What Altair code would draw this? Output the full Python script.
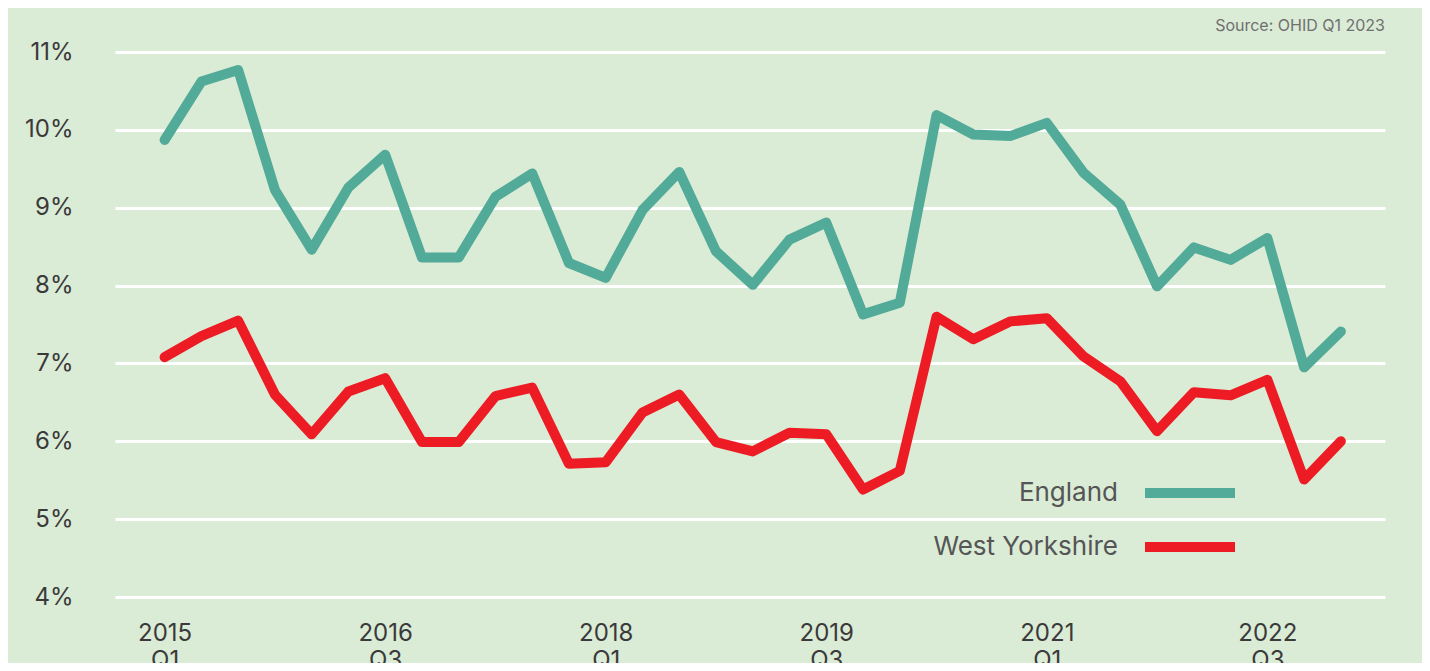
import json
import altair as alt
import pandas as pd

years = list(range(2015, 2024))
quarters = [f"{y} Q{q}" for y in years for q in range(1, 5)][:33]

england = [9.87, 10.62, 10.77, 9.23, 8.46, 9.26, 9.68, 8.36, 8.36, 9.14, 9.44,
           8.29, 8.10, 8.97, 9.46, 8.44, 8.01, 8.59, 8.81, 7.63, 7.78, 10.19,
           9.94, 9.92, 10.09, 9.45, 9.04, 7.99, 8.49, 8.33, 8.61, 6.95, 7.41]
west_yorkshire = [7.08, 7.35, 7.55, 6.60, 6.09, 6.64, 6.81, 5.99, 5.99, 6.58, 6.69,
                  5.71, 5.73, 6.37, 6.60, 5.99, 5.87, 6.11, 6.09, 5.38, 5.62, 7.60,
                  7.31, 7.54, 7.58, 7.09, 6.77, 6.13, 6.63, 6.59, 6.79, 5.51, 6.00]

series_names = ["England", "West Yorkshire"]
series_colors = ["#52aa98", "#ed1c24"]
x_tick_index = [0, 6, 12, 18, 24, 30]
y_ticks = [4, 5, 6, 7, 8, 9, 10, 11]
source_text = "Source: OHID Q1 2023"

rows = []
for name, vals in zip(series_names, [england, west_yorkshire]):
    for i, v in enumerate(vals):
        rows.append({"idx": i, "quarter": quarters[i], "series": name, "value": v})
df = pd.DataFrame(rows)

FONT = "Inter"
label_expr_x = "split(" + json.dumps(quarters) + "[datum.value], ' ')"

chart = alt.Chart(
    df,
    title=alt.TitleParams(source_text, anchor="end", fontSize=16, color="#707070",
                          font=FONT, fontWeight="normal", offset=6, frame="group",
                          orient="top"),
).mark_line(
    strokeWidth=10, strokeCap="round", strokeJoin="round"
).encode(
    x=alt.X("idx:Q",
            scale=alt.Scale(domain=[-1.35, 33.2], nice=False, zero=False),
            axis=alt.Axis(values=x_tick_index, labelExpr=label_expr_x, title=None,
                          grid=False, domain=False, ticks=False, labelPadding=24,
                          labelFontSize=24, labelColor="#3a3a3a", labelFont=FONT,
                          labelLineHeight=27, labelAlign="center", labelBaseline="top",
                          labelFlush=False, labelOverlap=False)),
    y=alt.Y("value:Q",
            scale=alt.Scale(domain=[4, 11], nice=False, zero=False),
            axis=alt.Axis(values=y_ticks, labelExpr="datum.value + '%'", title=None,
                          grid=True, gridColor="white", gridWidth=3, domain=False,
                          ticks=False, labelPadding=42, labelFontSize=24,
                          labelColor="#3a3a3a", labelFont=FONT, labelAlign="right",
                          labelBaseline="middle")),
    color=alt.Color("series:N",
                    scale=alt.Scale(domain=series_names, range=series_colors),
                    legend=alt.Legend(title=None, orient="none", legendX=1060, legendY=426,
                                      symbolType="M-4.5,0H4.5", symbolSize=400,
                                      symbolStrokeWidth=10, labelOffset={"expr": "-87"},
                                      labelAlign="right", labelFontSize=26,
                                      labelColor="#555555", labelFont=FONT,
                                      rowPadding=14, padding=0, labelLimit=400)),
    order="idx:Q",
).properties(
    width=1270,
    height=545,
    padding={"left": 107, "top": 44, "right": 37, "bottom": 66},
    autosize=alt.AutoSizeParams(type="none"),
    background="#daebd6",
).configure_view(stroke=None)

chart.save("out.html", embed_options={"renderer": "svg", "actions": False})
